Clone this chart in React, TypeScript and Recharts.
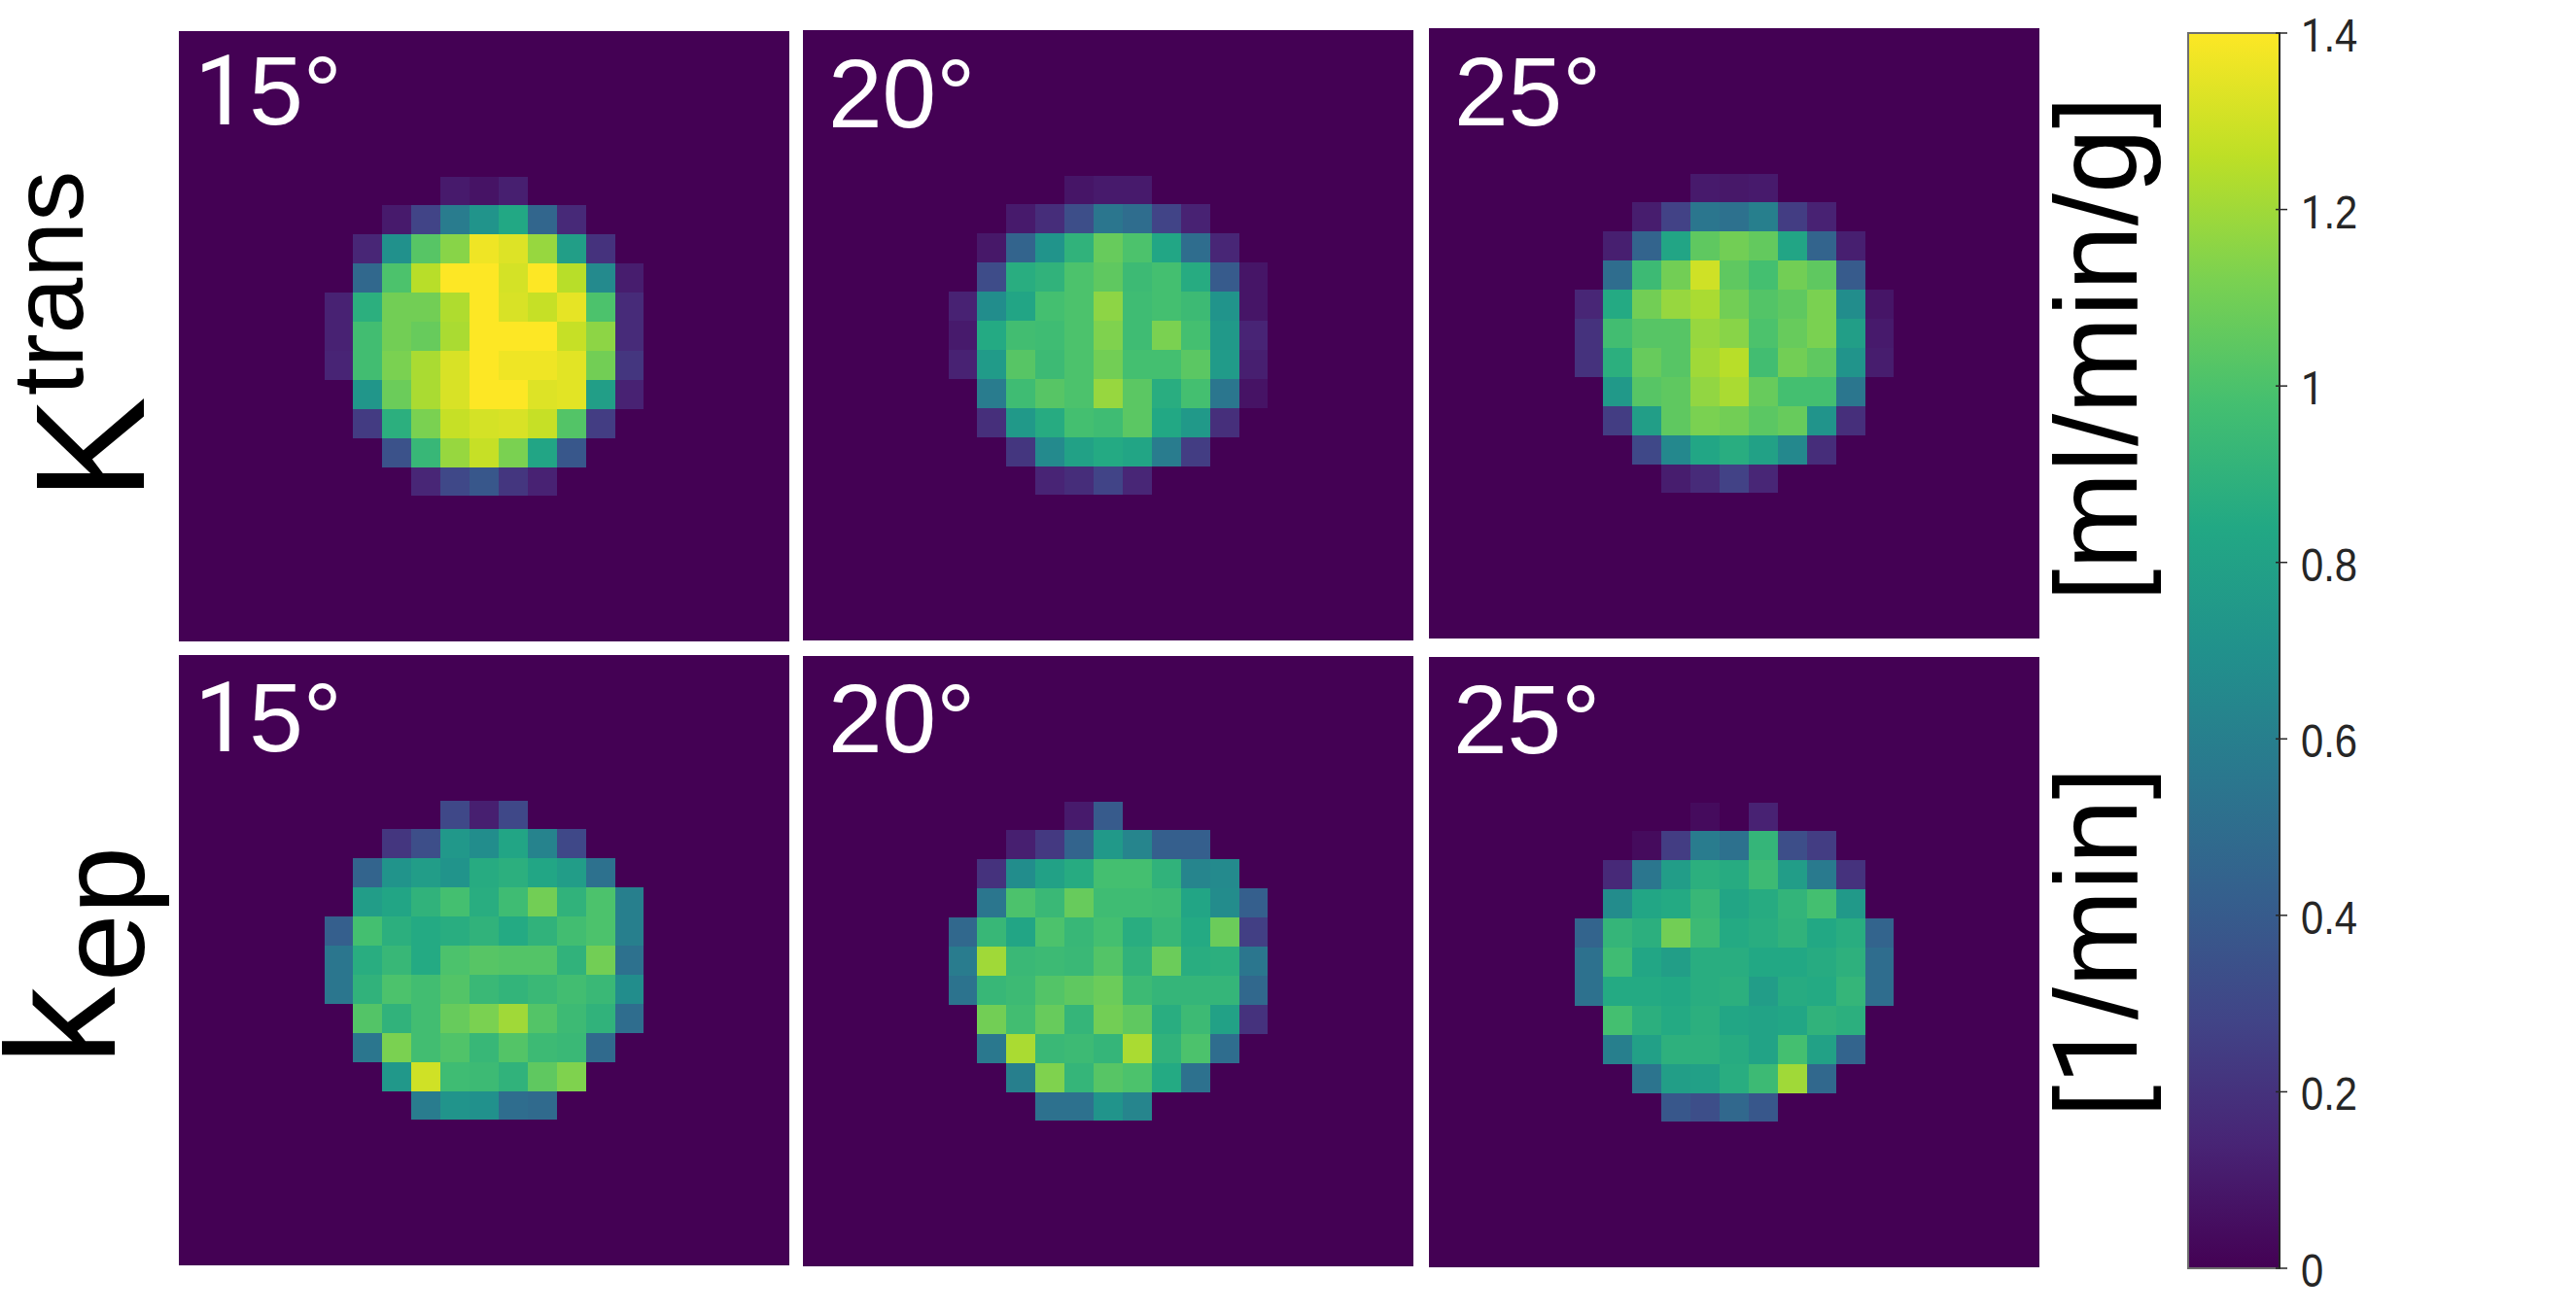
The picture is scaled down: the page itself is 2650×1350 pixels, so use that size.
import { Bar, BarChart, Scatter, ScatterChart, XAxis, YAxis } from "recharts";

// colour map stops, evenly spaced from 0 to the top of the scale
const viridis = ["#440154", "#482475", "#414487", "#355f8d", "#2a788e", "#21918c", "#22a884", "#44bf70", "#7ad151", "#bddf26", "#fde725"];
const scaleMax = 1.4;
const barTicks = [0, 0.2, 0.4, 0.6, 0.8, 1, 1.2, 1.4];

// only the central 11x11 of each 21x21 map holds signal, the rest is 0
const gridSize = 21;
const firstCell = 5;

const ktrans15 = [
  [0, 0, 0, 0, 0.1, 0.07, 0.12, 0, 0, 0, 0],
  [0, 0, 0.1, 0.28, 0.58, 0.72, 0.84, 0.46, 0.16, 0, 0],
  [0, 0.15, 0.7, 1.03, 1.15, 1.37, 1.33, 1.18, 0.78, 0.2, 0],
  [0, 0.47, 1.0, 1.25, 1.4, 1.4, 1.31, 1.4, 1.25, 0.66, 0.11],
  [0.13, 0.88, 1.1, 1.1, 1.23, 1.4, 1.32, 1.28, 1.35, 1.0, 0.17],
  [0.13, 0.97, 1.1, 1.07, 1.22, 1.4, 1.4, 1.4, 1.28, 1.16, 0.17],
  [0.14, 0.97, 1.12, 1.22, 1.32, 1.4, 1.37, 1.37, 1.34, 1.1, 0.22],
  [0, 0.73, 1.08, 1.22, 1.32, 1.4, 1.4, 1.33, 1.34, 0.78, 0.13],
  [0, 0.24, 0.88, 1.12, 1.28, 1.31, 1.32, 1.28, 1.02, 0.25, 0],
  [0, 0, 0.35, 0.93, 1.18, 1.28, 1.12, 0.82, 0.38, 0, 0],
  [0, 0, 0, 0.15, 0.3, 0.38, 0.22, 0.13, 0, 0, 0]
];

const ktrans20 = [
  [0, 0, 0, 0, 0.08, 0.1, 0.1, 0, 0, 0, 0],
  [0, 0, 0.1, 0.18, 0.33, 0.55, 0.5, 0.28, 0.13, 0, 0],
  [0, 0.09, 0.45, 0.72, 0.9, 1.07, 1.0, 0.83, 0.5, 0.15, 0],
  [0, 0.32, 0.87, 0.9, 1.0, 1.05, 0.95, 0.98, 0.86, 0.4, 0.08],
  [0.13, 0.68, 0.82, 0.98, 1.0, 1.16, 0.96, 0.98, 0.95, 0.72, 0.08],
  [0.1, 0.85, 0.97, 0.96, 1.0, 1.13, 0.96, 1.12, 0.98, 0.75, 0.14],
  [0.13, 0.76, 1.03, 0.95, 1.0, 1.1, 0.98, 0.98, 1.04, 0.76, 0.12],
  [0, 0.58, 0.96, 1.03, 1.0, 1.18, 1.04, 0.87, 0.98, 0.55, 0.07],
  [0, 0.19, 0.75, 0.86, 0.98, 0.96, 1.04, 0.84, 0.75, 0.19, 0],
  [0, 0, 0.22, 0.66, 0.8, 0.85, 0.82, 0.58, 0.25, 0, 0],
  [0, 0, 0, 0.14, 0.18, 0.28, 0.15, 0, 0, 0, 0]
];

const ktrans25 = [
  [0, 0, 0, 0, 0.1, 0.09, 0.1, 0, 0, 0, 0],
  [0, 0, 0.11, 0.27, 0.55, 0.52, 0.6, 0.25, 0.13, 0, 0],
  [0, 0.12, 0.45, 0.82, 1.05, 1.1, 1.06, 0.82, 0.45, 0.12, 0],
  [0, 0.5, 0.95, 1.1, 1.3, 1.05, 0.98, 1.1, 1.05, 0.4, 0],
  [0.15, 0.85, 1.1, 1.18, 1.22, 1.1, 1.02, 1.05, 1.12, 0.68, 0.08],
  [0.2, 0.97, 1.03, 1.03, 1.18, 1.15, 1.0, 1.07, 1.12, 0.78, 0.1],
  [0.2, 0.88, 1.07, 1.03, 1.2, 1.25, 0.97, 1.1, 1.05, 0.72, 0.11],
  [0, 0.75, 1.03, 1.05, 1.17, 1.22, 1.07, 0.98, 0.98, 0.55, 0],
  [0, 0.25, 0.78, 1.05, 1.12, 1.1, 1.04, 1.07, 0.72, 0.19, 0],
  [0, 0, 0.3, 0.65, 0.83, 0.87, 0.8, 0.65, 0.18, 0, 0],
  [0, 0, 0, 0.11, 0.17, 0.27, 0.15, 0, 0, 0, 0]
];

const kep15 = [
  [0, 0, 0, 0, 0.3, 0.12, 0.3, 0, 0, 0, 0],
  [0, 0, 0.22, 0.33, 0.74, 0.68, 0.82, 0.62, 0.3, 0, 0],
  [0, 0.45, 0.72, 0.77, 0.72, 0.86, 0.88, 0.83, 0.77, 0.52, 0],
  [0, 0.77, 0.82, 0.9, 0.98, 0.87, 0.96, 1.1, 0.9, 1.0, 0.6],
  [0.42, 0.98, 0.88, 0.85, 0.87, 0.9, 0.85, 0.9, 0.97, 1.0, 0.6],
  [0.55, 0.87, 0.93, 0.85, 1.0, 1.03, 1.02, 1.02, 0.9, 1.1, 0.52],
  [0.55, 0.9, 1.0, 0.97, 1.02, 0.94, 0.91, 0.94, 0.97, 0.94, 0.68],
  [0, 1.02, 0.9, 0.97, 1.07, 1.12, 1.2, 1.02, 0.95, 0.9, 0.5],
  [0, 0.55, 1.12, 0.97, 1.01, 0.93, 1.02, 0.95, 0.94, 0.48, 0],
  [0, 0, 0.74, 1.3, 0.96, 0.95, 0.9, 1.05, 1.13, 0, 0],
  [0, 0, 0, 0.58, 0.72, 0.7, 0.5, 0.48, 0, 0, 0]
];

const kep20 = [
  [0, 0, 0, 0, 0.1, 0.4, 0, 0, 0, 0, 0],
  [0, 0, 0.12, 0.23, 0.45, 0.75, 0.63, 0.42, 0.42, 0, 0],
  [0, 0.2, 0.68, 0.8, 0.86, 0.98, 0.98, 0.9, 0.63, 0.66, 0],
  [0, 0.55, 1.0, 0.94, 1.07, 0.96, 0.96, 0.95, 0.82, 0.67, 0.42],
  [0.47, 0.93, 0.82, 1.0, 0.93, 0.98, 0.87, 0.93, 0.85, 1.08, 0.26],
  [0.58, 1.2, 0.94, 0.95, 0.94, 1.02, 0.9, 1.08, 0.87, 0.88, 0.55],
  [0.53, 0.93, 0.95, 1.02, 1.05, 1.08, 0.95, 0.92, 0.92, 0.92, 0.47],
  [0, 1.1, 0.97, 1.07, 0.92, 1.1, 1.05, 0.87, 0.95, 0.8, 0.2],
  [0, 0.56, 1.22, 0.94, 0.95, 0.92, 1.22, 0.9, 1.0, 0.5, 0],
  [0, 0, 0.6, 1.13, 0.92, 1.03, 1.0, 0.85, 0.52, 0, 0],
  [0, 0, 0, 0.52, 0.52, 0.72, 0.63, 0, 0, 0, 0]
];

const kep25 = [
  [0, 0, 0, 0, 0.04, 0, 0.13, 0, 0, 0, 0],
  [0, 0, 0.04, 0.25, 0.58, 0.52, 0.92, 0.33, 0.25, 0, 0],
  [0, 0.16, 0.55, 0.77, 0.88, 0.86, 0.95, 0.77, 0.57, 0.2, 0],
  [0, 0.67, 0.83, 0.85, 0.93, 0.82, 0.86, 0.91, 0.98, 0.75, 0],
  [0.45, 0.92, 0.88, 1.1, 0.95, 0.85, 0.87, 0.9, 0.84, 0.87, 0.45],
  [0.52, 0.96, 0.83, 0.78, 0.87, 0.87, 0.84, 0.84, 0.86, 0.89, 0.5],
  [0.52, 0.85, 0.85, 0.84, 0.87, 0.88, 0.77, 0.86, 0.85, 0.92, 0.5],
  [0, 0.98, 0.88, 0.85, 0.88, 0.83, 0.81, 0.83, 0.9, 0.88, 0],
  [0, 0.6, 0.79, 0.89, 0.89, 0.86, 0.81, 0.98, 0.8, 0.45, 0],
  [0, 0, 0.54, 0.78, 0.79, 0.87, 0.95, 1.2, 0.47, 0, 0],
  [0, 0, 0, 0.38, 0.33, 0.47, 0.38, 0, 0, 0, 0]
];

const panels = [
  { title: "15°", rows: ktrans15, left: 184, top: 32, textX: 200, textY: 128 },
  { title: "20°", rows: ktrans20, left: 826, top: 31, textX: 852, textY: 131 },
  { title: "25°", rows: ktrans25, left: 1470, top: 29, textX: 1496, textY: 129 },
  { title: "15°", rows: kep15, left: 184, top: 674, textX: 200, textY: 773 },
  { title: "20°", rows: kep20, left: 826, top: 675, textX: 852, textY: 774 },
  { title: "25°", rows: kep25, left: 1470, top: 676, textX: 1495, textY: 775 }
];

const panelSize = 628;
const sansFont = "'Liberation Sans', Arial, sans-serif";

function toCells(rows: number[][]) {
  return rows.flatMap((row, r) =>
    row.map((value, c) => ({ x: firstCell + c + 0.5, y: firstCell + r + 0.5, value }))
  );
}

function valueColor(value: number) {
  const pos = (Math.min(value, scaleMax) / scaleMax) * (viridis.length - 1);
  const low = Math.floor(pos);
  const high = Math.min(low + 1, viridis.length - 1);
  const mix = pos - low;
  const a = hexToRgb(viridis[low]);
  const b = hexToRgb(viridis[high]);
  return `rgb(${a.map((v, i) => Math.round(v + (b[i] - v) * mix)).join(",")})`;
}

function hexToRgb(hex: string) {
  return [1, 3, 5].map((i) => parseInt(hex.slice(i, i + 2), 16));
}

// the reference's "1" has no foot, Liberation's has: take that one glyph from Roboto
function plainOnes(text: string) {
  return text.split(/(1)/).map((part, i) =>
    part === "1" ? <tspan key={i} fontFamily="Roboto">1</tspan> : part
  );
}

function HeatCell(props: any) {
  const size = panelSize / gridSize;
  return (
    <rect
      x={props.cx - size / 2}
      y={props.cy - size / 2}
      width={size}
      height={size}
      fill={valueColor(props.payload.value)}
      shapeRendering="crispEdges"
    />
  );
}

function ColorbarTick(props: any) {
  const { x, y, payload } = props;
  return (
    <g>
      <line x1={x - 12} x2={x} y1={y} y2={y} stroke="#262626" strokeWidth={1.5} />
      <text
        transform={`translate(${x + 14} ${y + 19}) scale(0.87 1)`}
        fontFamily={sansFont}
        fontSize={48}
        fill="#262626"
      >
        {plainOnes(String(payload.value))}
      </text>
    </g>
  );
}

function Labels() {
  return (
    <svg
      width={2650}
      height={1350}
      style={{ position: "absolute", left: 0, top: 0, pointerEvents: "none" }}
      fontFamily={sansFont}
    >
      {panels.map((panel, i) => (
        <text key={i} x={panel.textX} y={panel.textY} fontSize={100} fill="#ffffff">
          {plainOnes(panel.title)}
        </text>
      ))}
      <text transform="translate(148 515) rotate(-90)" fontSize={160}>K</text>
      <text transform="translate(85 407) rotate(-90)" fontSize={104}>trans</text>
      <text transform="translate(118 1096) rotate(-90)" fontSize={160}>k</text>
      <text transform="translate(148 1010) rotate(-90)" fontSize={125}>ep</text>
      <text transform="translate(2198 619) rotate(-90)" fontSize={120}>[ml/min/g]</text>
      <text transform="translate(2198 1150) rotate(-90)" fontSize={120}>{plainOnes("[1/min]")}</text>
    </svg>
  );
}

export default function App() {
  return (
    <div style={{ position: "absolute", left: 0, top: 0, width: 2650, height: 1350, background: "#ffffff" }}>
      {panels.map((panel, i) => (
        <div key={i} style={{ position: "absolute", left: panel.left, top: panel.top }}>
          <ScatterChart
            width={panelSize}
            height={panelSize}
            margin={{ top: 0, right: 0, bottom: 0, left: 0 }}
            style={{ background: viridis[0] }}
          >
            <XAxis type="number" dataKey="x" domain={[0, gridSize]} hide />
            <YAxis type="number" dataKey="y" domain={[0, gridSize]} reversed hide />
            <Scatter data={toCells(panel.rows)} shape={HeatCell} isAnimationActive={false} />
          </ScatterChart>
        </div>
      ))}

      <div style={{ position: "absolute", left: 2240, top: 4 }}>
        <BarChart
          width={410}
          height={1340}
          data={[{ name: "scale", value: scaleMax }]}
          margin={{ top: 30, right: 0, bottom: 39, left: 11 }}
          barCategoryGap={0}
        >
          <defs>
            <linearGradient id="viridisBar" x1="0" y1="1" x2="0" y2="0">
              {viridis.map((color, i) => (
                <stop key={color} offset={i / (viridis.length - 1)} stopColor={color} />
              ))}
            </linearGradient>
          </defs>
          <XAxis dataKey="name" hide />
          <YAxis
            orientation="right"
            domain={[0, scaleMax]}
            ticks={barTicks}
            interval={0}
            width={305}
            axisLine={{ stroke: "#262626", strokeWidth: 2 }}
            tickLine={false}
            tick={ColorbarTick}
          />
          <Bar dataKey="value" fill="url(#viridisBar)" stroke="#6e6e6e" strokeWidth={2} isAnimationActive={false} />
        </BarChart>
      </div>

      <Labels />
    </div>
  );
}
